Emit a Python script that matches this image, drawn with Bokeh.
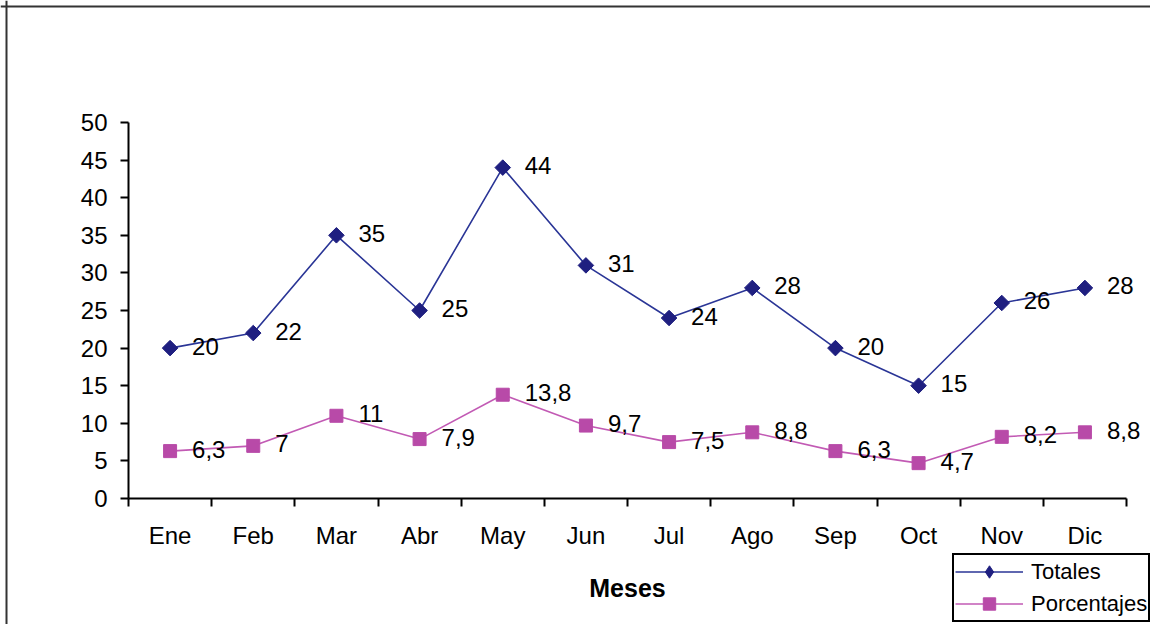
import numpy as np
from bokeh.plotting import figure
from bokeh.models import (Range1d, FixedTicker, ColumnDataSource, Legend, LegendItem, Span)
from bokeh.core.properties import value
from bokeh.embed import file_html
from bokeh.resources import INLINE

months = ["Ene", "Feb", "Mar", "Abr", "May", "Jun", "Jul", "Ago", "Sep", "Oct", "Nov", "Dic"]
totales = [20, 22, 35, 25, 44, 31, 24, 28, 20, 15, 26, 28]
porcentajes = [6.3, 7, 11, 7.9, 13.8, 9.7, 7.5, 8.8, 6.3, 4.7, 8.2, 8.8]
y_ticks = list(range(0, 51, 5))

FONT = "Liberation Sans"
NAVY = "#1f1f80"
NAVY_LINE = "#2a3596"
PINK = "#b84aa8"
PINK_LINE = "#c25ab4"

# layout (canvas pixels)
W, H = 1150, 624
AX_LEFT, AX_RIGHT = 128, 1126     # x axis extent
AX_ZERO, AX_TOP = 498, 122        # y=0 and y=50
BORDER = 6

n = len(months)
ymax = y_ticks[-1]
ppx = (AX_RIGHT - AX_LEFT) / n
ppy = (AX_ZERO - AX_TOP) / ymax
x_range = Range1d(-AX_LEFT / ppx, n + (W - AX_RIGHT) / ppx)
y_range = Range1d(-(H - AX_ZERO) / ppy, ymax + AX_TOP / ppy)

x = np.arange(n) + 0.5

def fmt(v):
    return ("%g" % v).replace(".", ",")

src_t = ColumnDataSource(dict(x=x, y=totales, lab=[fmt(v) for v in totales]))
src_p = ColumnDataSource(dict(x=x, y=porcentajes, lab=[fmt(v) for v in porcentajes]))

p = figure(width=W, height=H, output_backend="svg", toolbar_location=None,
           x_range=x_range, y_range=y_range,
           min_border_left=0, min_border_right=0, min_border_top=0, min_border_bottom=0)
p.background_fill_color = "white"
p.border_fill_color = "white"
p.outline_line_color = None
p.xgrid.visible = False
p.ygrid.visible = False

# axes
xa = p.xaxis[0]
xa.fixed_location = 0
xa.bounds = (0, n)
xa.ticker = FixedTicker(ticks=list(x), minor_ticks=list(range(n + 1)))
xa.major_label_overrides = {float(xi): m for xi, m in zip(x, months)}
xa.major_tick_line_color = None
xa.minor_tick_line_color = "black"
xa.minor_tick_line_width = 2
xa.minor_tick_out = 8
xa.minor_tick_in = 0
xa.axis_line_color = "black"
xa.axis_line_width = 2
xa.major_label_text_font = FONT
xa.major_label_text_font_size = "24px"
xa.major_label_text_color = "black"
xa.major_label_standoff = 15
xa.axis_label = "Meses"
xa.axis_label_text_font = FONT
xa.axis_label_text_font_size = "25px"
xa.axis_label_text_font_style = "bold"
xa.axis_label_text_color = "black"
xa.axis_label_standoff = 22

ya = p.yaxis[0]
ya.fixed_location = 0
ya.bounds = (0, ymax)
ya.ticker = FixedTicker(ticks=y_ticks)
ya.major_tick_line_color = "black"
ya.major_tick_line_width = 2
ya.major_tick_out = 8
ya.major_tick_in = 0
ya.minor_tick_line_color = None
ya.axis_line_color = "black"
ya.axis_line_width = 2
ya.major_label_text_font = FONT
ya.major_label_text_font_size = "24px"
ya.major_label_text_color = "black"
ya.major_label_standoff = 13

# series
lt = p.line("x", "y", source=src_t, line_color=NAVY_LINE, line_width=1.6)
# diamond used for the legend swatch (hidden beneath the rotated squares in the plot)
mt_leg = p.scatter("x", "y", source=src_t, marker="diamond", size=13,
                   fill_color=NAVY, line_color=NAVY)
mt = p.scatter("x", "y", source=src_t, marker="square", angle=np.pi / 4, size=11,
               fill_color=NAVY, line_color=NAVY)
lp = p.line("x", "y", source=src_p, line_color=PINK_LINE, line_width=1.6)
mp = p.scatter("x", "y", source=src_p, marker="square", size=13, fill_color=PINK, line_color=PINK)

for s in (src_t, src_p):
    p.text("x", "y", text="lab", source=s, x_offset=22, y_offset=-2,
           text_font=value(FONT), text_font_size="24px", text_color="black",
           text_baseline="middle", text_align="left")

legend = Legend(items=[LegendItem(label="Totales", renderers=[lt, mt_leg]),
                       LegendItem(label="Porcentajes", renderers=[lp, mp])],
                location=(952, H - 622), orientation="vertical")
legend.label_text_font = FONT
legend.label_text_font_size = "22px"
legend.label_text_color = "black"
legend.glyph_width = 68
legend.glyph_height = 31
legend.label_height = 31
legend.label_standoff = 8
legend.padding = 1
legend.spacing = 1
legend.margin = 0
legend.border_line_color = "black"
legend.border_line_alpha = 1
legend.border_line_width = 2
legend.background_fill_color = "white"
legend.background_fill_alpha = 1
p.add_layout(legend, "center")

# outer border (left and top edges visible)
p.add_layout(Span(location=(BORDER - AX_LEFT) / ppx, dimension="height",
                  line_color="#333333", line_width=2))
p.add_layout(Span(location=ymax + (AX_TOP - BORDER) / ppy, dimension="width",
                  line_color="#333333", line_width=2))

open("out.html", "w").write(file_html(p, INLINE))
